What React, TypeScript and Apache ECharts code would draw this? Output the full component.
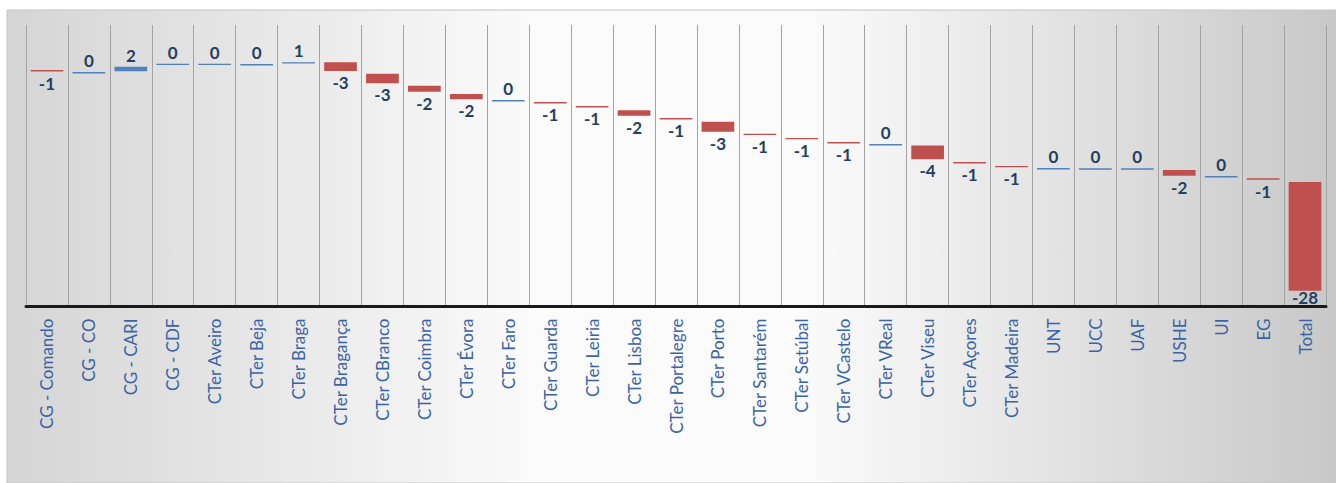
import React, { useEffect, useRef } from "react";
import * as echarts from "echarts";

const categories = [
  "CG - Comando", "CG - CO", "CG - CARI", "CG - CDF", "CTer Aveiro", "CTer Beja", "CTer Braga",
  "CTer Bragança", "CTer CBranco", "CTer Coimbra", "CTer Évora", "CTer Faro", "CTer Guarda",
  "CTer Leiria", "CTer Lisboa", "CTer Portalegre", "CTer Porto", "CTer Santarém", "CTer Setúbal",
  "CTer VCastelo", "CTer VReal", "CTer Viseu", "CTer Açores", "CTer Madeira", "UNT", "UCC", "UAF",
  "USHE", "UI", "EG", "Total",
];

// Displayed data labels
const labels = [-1, 0, 2, 0, 0, 0, 1, -3, -3, -2, -2, 0, -1, -1, -2, -1, -3, -1, -1, -1, 0, -4, -1, -1, 0, 0, 0, -2, 0, -1, -28];

// Upper and lower level of each floating bar (chart units)
const barTop = [0.5, 0.0, 1.3, 2.1, 2.1, 2.0, 2.5, 2.45, -0.45, -3.55, -5.65, -7.2, -7.7, -8.7, -9.8, -11.8, -12.75, -15.8, -16.9, -17.95, -18.45, -18.85, -23.05, -24.05, -24.6, -24.65, -24.65, -25.1, -26.6, -27.2, -28.15];
const barBottom = [0.1, -0.4, 0.15, 1.75, 1.75, 1.65, 2.15, 0.25, -2.9, -5.05, -7.0, -7.55, -8.05, -9.1, -11.2, -12.15, -15.3, -16.15, -17.25, -18.3, -18.8, -22.35, -23.4, -24.4, -24.95, -25.0, -25.0, -26.55, -27.0, -27.55, -56.0];

const Y_MIN = -60;
const Y_MAX = 12;

export default function App() {
  const ref = useRef<HTMLDivElement>(null);

  useEffect(() => {
    if (!ref.current) return;
    const chart = echarts.init(ref.current, null, { renderer: "svg" });
    const data = categories.map((c, i) => [i, barTop[i], barBottom[i], labels[i]]);

    chart.setOption({
      animation: false,
      backgroundColor: "#ffffff",
      graphic: [
        {
          type: "rect",
          silent: true,
          z: -10,
          shape: { x: 7, y: 10, width: 1336 - 7, height: 483 - 10 },
          style: {
            stroke: "#c4c4c4",
            lineWidth: 1,
            fill: new echarts.graphic.LinearGradient(0, 0, 1, 0, [
              { offset: 0, color: "#d5d5d5" },
              { offset: 0.4, color: "#fbfbfb" },
              { offset: 0.6, color: "#fbfbfb" },
              { offset: 1, color: "#c8c8c8" },
            ]),
          },
        },
      ],
      grid: { left: 26, right: 10, top: 25, bottom: 176.5, containLabel: false },
      xAxis: {
        type: "category",
        data: categories,
        boundaryGap: true,
        axisLine: { show: true, onZero: false, lineStyle: { color: "#1a1a1a", width: 3 } },
        axisTick: { show: false },
        splitLine: { show: true, interval: 0, lineStyle: { color: "#a3a3a3", width: 1 } },
        axisLabel: {
          interval: 0,
          rotate: 90,
          margin: 12,
          color: "#3a64a6",
          fontFamily: "Lato",
          fontSize: 17,
        },
      },
      yAxis: {
        type: "value",
        min: Y_MIN,
        max: Y_MAX,
        show: false,
        splitLine: { show: false },
      },
      series: [
        {
          type: "custom",
          encode: { x: 0, y: [1, 2] },
          data,
          renderItem: (params: any, api: any) => {
            const idx = api.value(0);
            const top = api.coord([idx, api.value(1)]);
            const bot = api.coord([idx, api.value(2)]);
            const base = api.coord([idx, Y_MIN]);
            const w = api.size([1, 0])[0] * 0.78;
            const lab = api.value(3);
            const neg = lab < 0;
            const color = neg ? "#c0504d" : "#4f81bd";
            const textY = neg ? Math.min(bot[1] + 3, base[1] - 18) : top[1] - 3;
            return {
              type: "group",
              children: [
                {
                  type: "rect",
                  shape: { x: top[0] - w / 2, y: top[1], width: w, height: Math.max(bot[1] - top[1], 1) },
                  style: { fill: color },
                },
                {
                  type: "text",
                  z2: 10,
                  style: {
                    text: String(lab),
                    x: top[0],
                    y: textY,
                    align: "center",
                    verticalAlign: neg ? "top" : "bottom",
                    fontFamily: "Lato",
                    fontWeight: "bold",
                    fontSize: 17,
                    fill: "#233f62",
                  },
                },
              ],
            };
          },
        },
      ],
    });

    return () => chart.dispose();
  }, []);

  return (
    <div
      ref={ref}
      style={{ position: "fixed", left: 0, top: 0, width: 1336, height: 483 }}
    />
  );
}
